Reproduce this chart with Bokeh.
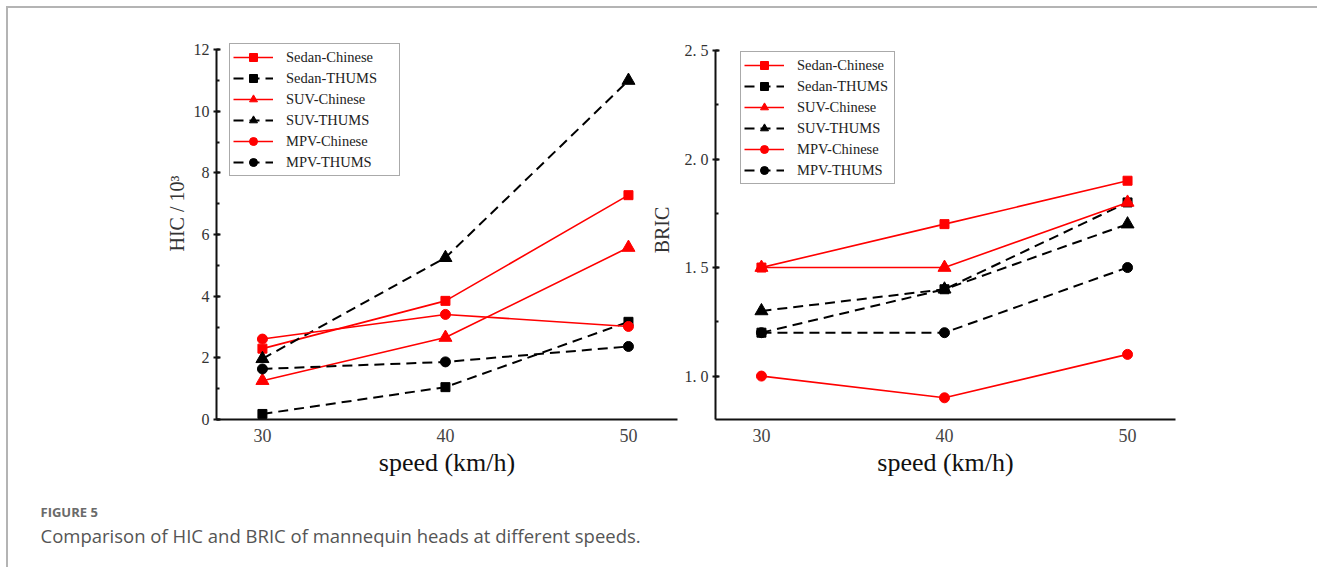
from bokeh.plotting import figure
from bokeh.models import (Range1d, Legend, LegendItem, Label, SingleIntervalTicker,
                          FixedTicker, CustomJSTickFormatter, Title)
from bokeh.layouts import row, column
from bokeh.embed import file_html
from bokeh.resources import INLINE

# ---------------- data ----------------
speeds = [30, 40, 50]
x_ticks = [30, 40, 50]
series_names = ["Sedan-Chinese", "Sedan-THUMS", "SUV-Chinese", "SUV-THUMS", "MPV-Chinese", "MPV-THUMS"]

hic_sedan_chinese = [2.30, 3.85, 7.28]
hic_sedan_thums = [0.18, 1.05, 3.17]
hic_suv_chinese = [1.26, 2.66, 5.58]
hic_suv_thums = [1.97, 5.25, 11.0]
hic_mpv_chinese = [2.61, 3.41, 3.02]
hic_mpv_thums = [1.64, 1.87, 2.37]

bric_sedan_chinese = [1.5, 1.7, 1.9]
bric_sedan_thums = [1.2, 1.4, 1.8]
bric_suv_chinese = [1.5, 1.5, 1.8]
bric_suv_thums = [1.3, 1.4, 1.7]
bric_mpv_chinese = [1.0, 0.9, 1.1]
bric_mpv_thums = [1.2, 1.2, 1.5]

hic_series = [hic_sedan_chinese, hic_sedan_thums, hic_suv_chinese,
              hic_suv_thums, hic_mpv_chinese, hic_mpv_thums]
bric_series = [bric_sedan_chinese, bric_sedan_thums, bric_suv_chinese,
               bric_suv_thums, bric_mpv_chinese, bric_mpv_thums]

# ---------------- styles ----------------
RED = "#ff0000"
BLACK = "#000000"
SERIF = "Liberation Serif"
styles = [
    dict(color=RED, dash="solid", marker="square", size=9, lw=1.6),
    dict(color=BLACK, dash="10 6", marker="square", size=9, lw=2.0),
    dict(color=RED, dash="solid", marker="triangle", size=13, lw=1.6),
    dict(color=BLACK, dash="10 6", marker="triangle", size=13, lw=2.0),
    dict(color=RED, dash="solid", marker="circle", size=10, lw=1.6),
    dict(color=BLACK, dash="10 6", marker="circle", size=10, lw=2.0),
]

FRAME_H = 379
B_TOP = 32
B_BOTTOM = 72


def make_panel(series, x_range, y_range, y_bounds, frame_w, b_left, b_right,
               y_ticker, y_formatter, legend_loc, label_width):
    p = figure(width=b_left + frame_w + b_right, height=B_TOP + FRAME_H + B_BOTTOM,
               frame_width=frame_w, frame_height=FRAME_H,
               min_border_left=b_left, min_border_right=b_right,
               min_border_top=B_TOP, min_border_bottom=B_BOTTOM,
               x_range=x_range, y_range=y_range,
               output_backend="svg", toolbar_location=None)
    p.background_fill_alpha = 0
    p.border_fill_alpha = 0
    p.outline_line_color = None
    p.grid.visible = False

    items = []
    for name, vals, st in zip(series_names, series, styles):
        lr = p.line(speeds, vals, line_color=st["color"], line_width=st["lw"],
                    line_dash=st["dash"])
        sr = p.scatter(speeds, vals, marker=st["marker"], size=st["size"],
                       fill_color=st["color"], line_color=st["color"])
        items.append(LegendItem(label=name, renderers=[lr, sr]))

    leg = Legend(items=items, location=legend_loc, orientation="vertical",
                 border_line_color="#555555", border_line_width=1,
                 background_fill_color="white", background_fill_alpha=1,
                 padding=3, spacing=1, margin=0,
                 glyph_width=40, glyph_height=20, label_height=20, label_standoff=13,
                 label_width=label_width,
                 label_text_font=SERIF, label_text_font_size="14.5px",
                 label_text_color="#222222")
    p.add_layout(leg, "center")

    xa = p.xaxis[0]
    xa.ticker = FixedTicker(ticks=x_ticks)
    xa.major_tick_in = 0
    xa.major_tick_out = 0
    xa.minor_tick_in = 0
    xa.minor_tick_out = 0
    xa.axis_line_width = 2
    xa.axis_line_color = "#111111"
    xa.major_label_text_font = SERIF
    xa.major_label_text_font_size = "18px"
    xa.major_label_text_color = "#444444"
    xa.major_label_standoff = 9
    xa.axis_label = "speed (km/h)"
    xa.axis_label_text_font = SERIF
    xa.axis_label_text_font_size = "26px"
    xa.axis_label_text_font_style = "normal"
    xa.axis_label_text_color = "#111111"
    xa.axis_label_standoff = 3

    ya = p.yaxis[0]
    ya.ticker = y_ticker
    ya.bounds = y_bounds
    if y_formatter is not None:
        ya.formatter = y_formatter
    ya.axis_line_width = 2
    ya.axis_line_color = "#111111"
    ya.major_tick_line_width = 2
    ya.major_tick_line_color = "#111111"
    ya.minor_tick_line_width = 2
    ya.minor_tick_line_color = "#111111"
    ya.major_tick_in = 4
    ya.major_tick_out = 3
    ya.minor_tick_in = 3
    ya.minor_tick_out = 0
    ya.major_label_text_font = SERIF
    ya.major_label_text_font_size = "16px"
    ya.major_label_text_color = "#333333"
    ya.major_label_standoff = 4
    return p


# ---------------- left panel (HIC) ----------------
# y ranges extend a little above the axis top so the legends are not clipped;
# the axis lines themselves stop at the top tick via bounds.
p1 = make_panel(hic_series, Range1d(27.49, 52.68), Range1d(0, 12.3), (0, 12),
                frame_w=461, b_left=208, b_right=13,
                y_ticker=SingleIntervalTicker(interval=2, num_minor_ticks=2),
                y_formatter=None, legend_loc=(13, 243), label_width=110)
p1.add_layout(Title(text="HIC / 10³", align="left", offset=168, standoff=6,
                    text_font=SERIF, text_font_size="20px", text_font_style="normal",
                    text_color="#333333"), "left")

# ---------------- right panel (BRIC) ----------------
fmt = CustomJSTickFormatter(code="return tick.toFixed(1).replace('.', '. ');")
p2 = make_panel(bric_series, Range1d(27.49, 52.62), Range1d(0.8, 2.546), (0.8, 2.5),
                frame_w=460, b_left=72, b_right=100,
                y_ticker=SingleIntervalTicker(interval=0.5, num_minor_ticks=2),
                y_formatter=fmt, legend_loc=(25, 235), label_width=94)
p2.yaxis[0].axis_label = "BRIC"
p2.yaxis[0].axis_label_text_font = SERIF
p2.yaxis[0].axis_label_text_font_size = "20px"
p2.yaxis[0].axis_label_text_font_style = "normal"
p2.yaxis[0].axis_label_text_color = "#333333"
p2.yaxis[0].axis_label_standoff = 9
p2.margin = (0, 0, 0, -47)

# ---------------- caption ----------------
p3 = figure(width=1309, height=76, x_range=(0, 1), y_range=(0, 1),
            min_border=0, output_backend="svg", toolbar_location=None)
p3.axis.visible = False
p3.grid.visible = False
p3.outline_line_color = None
p3.add_layout(Label(x=32, y=56, x_units="screen", y_units="screen", text="FIGURE 5",
                    text_font="Open Sans", text_font_size="13px",
                    text_font_style="bold", text_color="#6a6a6a",
                    text_baseline="middle"))
p3.add_layout(Label(x=32, y=32, x_units="screen", y_units="screen",
                    text="Comparison of HIC and BRIC of mannequin heads at different speeds.",
                    text_font="Open Sans", text_font_size="18.5px",
                    text_color="#555555", text_baseline="middle"))

layout = column(row(p1, p2), p3, margin=(6, 0, 0, 6),
                styles={"border-top": "2px solid #b4b4b4", "border-left": "2px solid #b4b4b4"})

open("out.html", "w").write(file_html(layout, INLINE))
